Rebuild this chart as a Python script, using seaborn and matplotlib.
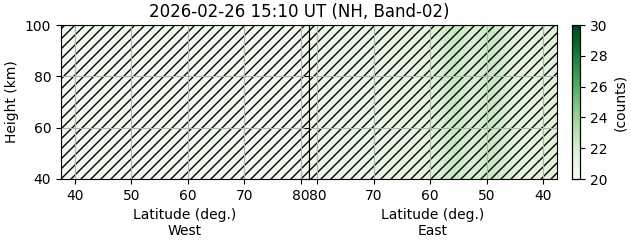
import numpy as np
import pandas as pd
import matplotlib
matplotlib.use("Agg")
import matplotlib.pyplot as plt
from matplotlib.backend_bases import GraphicsContextBase
import seaborn as sns

# ---- data ----
title = "2026-02-26 15:10 UT (NH, Band-02)"
lat_centers = list(range(38, 82))            # 38 .. 81 deg, 1-deg bins
height_edges = list(range(40, 105, 5))        # 40 .. 100 km
west_counts = [20.5, 20.4, 20.5, 20.4, 20.5, 20.4, 20.4, 20.5, 20.4, 20.5,
               20.4, 20.5, 20.4, 20.4, 20.5, 20.4, 20.5, 20.4, 20.4, 20.5,
               20.4, 20.5, 20.4, 20.4, 20.5, 20.4, 20.5, 20.4, 20.4, 20.5,
               20.4, 20.5, 20.4, 20.4, 20.5, 20.4, 20.5, 20.4, 20.4, 20.5,
               20.4, 20.5, 20.4, 20.5]           # lat 38 .. 81
east_counts = [21.6, 21.5, 21.3, 21.4, 21.3, 21.2, 21.3, 21.5, 21.7, 22.0,
               22.3, 22.5, 22.3, 22.0, 21.8, 21.9, 22.1, 22.4, 22.5, 22.2,
               21.9, 21.7, 21.5, 21.3, 21.2, 21.2, 21.1, 21.2, 21.1, 21.1,
               21.0, 21.1, 21.0, 20.9, 21.0, 20.9, 20.9, 21.0, 20.9, 20.8,
               20.9, 20.8, 20.9, 20.8]           # lat 38 .. 81
lat_ticks = [40, 50, 60, 70, 80]
height_ticks = [40, 60, 80, 100]
vmin, vmax = 20, 30

# slightly coarser hatch spacing than the default density
_orig_hatch_path = GraphicsContextBase.get_hatch_path
def _hatch_path(self, density=6.0):
    return _orig_hatch_path(self, density=5.4)
GraphicsContextBase.get_hatch_path = _hatch_path

plt.rcParams['font.family'] = ['DejaVu Sans']
plt.rcParams['hatch.linewidth'] = 1.0

fig = plt.figure(figsize=(6.31, 2.43), dpi=100)
W, H = 631, 243
def rect(x0, y0, x1, y1):
    return [x0 / W, 1 - y1 / H, (x1 - x0) / W, (y1 - y0) / H]

ax_w = fig.add_axes(rect(61, 25, 309, 179))
ax_e = fig.add_axes(rect(309, 25, 557, 179))
cax = fig.add_axes(rect(572, 25, 580, 179))

nrows = len(height_edges) - 1

def make_df(counts, reverse):
    lats = lat_centers[::-1] if reverse else lat_centers
    vals = counts[::-1] if reverse else counts
    arr = np.tile(np.array(vals, dtype=float), (nrows, 1))
    return pd.DataFrame(arr, index=height_edges[:-1], columns=lats)

panels = [(ax_w, west_counts, False, "West"), (ax_e, east_counts, True, "East")]
for i, (ax, counts, rev, side) in enumerate(panels):
    df = make_df(counts, rev)
    sns.heatmap(df, ax=ax, cmap="Greens", vmin=vmin, vmax=vmax,
                cbar=(i == 0), cbar_ax=cax if i == 0 else None,
                xticklabels=False, yticklabels=False)
    ncol = len(lat_centers)
    ax.set_xlim(0, ncol)
    ax.set_ylim(0, nrows)
    # hatch overlay
    ax.fill_between([0, ncol], 0, nrows, facecolor="none", edgecolor="black",
                    hatch="////", linewidth=0, zorder=2)
    if rev:
        xt = [lat_centers[-1] + 0.5 - t for t in lat_ticks]
    else:
        xt = [t - (lat_centers[0] - 0.5) for t in lat_ticks]
    ax.set_xticks(xt)
    ax.set_xticklabels([str(t) for t in lat_ticks], rotation=0, fontsize=10)
    yt = [(h - height_edges[0]) / 5 for h in height_ticks]
    ax.set_yticks(yt)
    if i == 0:
        ax.set_yticklabels([str(h) for h in height_ticks], rotation=0, fontsize=10)
        ax.set_ylabel("Height (km)", fontsize=10)
    else:
        ax.set_yticklabels([])
        ax.tick_params(axis='y', length=0)
        ax.set_ylabel("")
    ax.set_xlabel("Latitude (deg.)\n" + side, fontsize=10)
    ax.tick_params(axis='both', direction='out', length=3.5, width=0.8,
                   colors='black', labelsize=10)
    ax.grid(True, color="#b0b0b0", linewidth=0.8)
    ax.set_axisbelow(False)
    for s in ax.spines.values():
        s.set_visible(True)
        s.set_color("black")
        s.set_linewidth(0.8)
        s.set_zorder(5)

cax.set_yticks([20, 22, 24, 26, 28, 30])
cax.tick_params(labelsize=10, length=3.5, width=0.8)
cax.set_ylabel("(counts)", fontsize=10)
for s in cax.spines.values():
    s.set_visible(True)
    s.set_color("black")
    s.set_linewidth(0.8)

fig.text(299 / W, 1 - 12 / H, title, ha="center", va="center", fontsize=12)

fig.savefig("out.png", dpi=100)
